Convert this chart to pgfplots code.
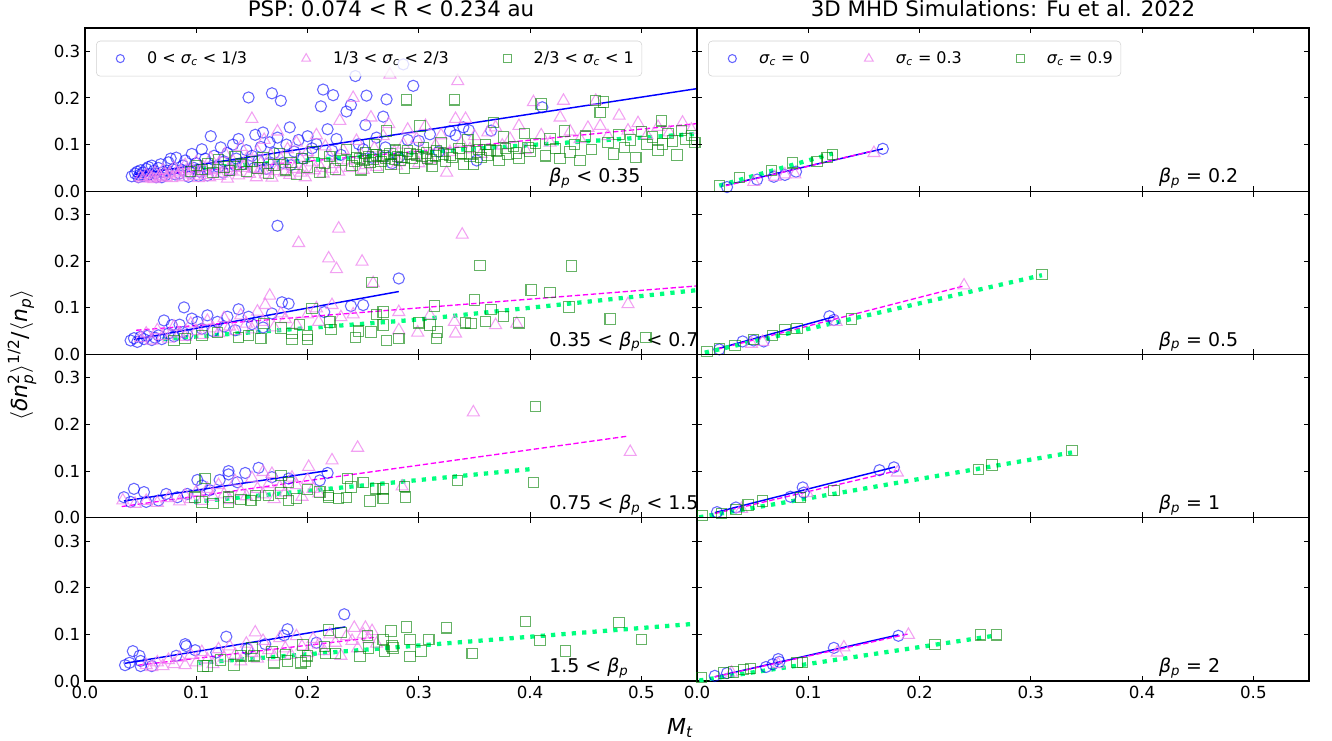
\documentclass[border=0pt]{standalone}
\usepackage{amsmath}
\usepackage{fontspec}
\setmainfont{DejaVu Sans}
\usepackage{pgfplots}
\pgfplotsset{compat=1.18}
\definecolor{cviolet}{RGB}{238,130,238}
\definecolor{cgreen}{RGB}{0,128,0}
\definecolor{spring}{RGB}{0,255,127}
\definecolor{cmag}{RGB}{255,0,255}
\tikzset{ann/.style={anchor=base west, font=\fontsize{14.2}{17}\selectfont}}
\pgfplotsset{
  panel/.style={scale only axis, width=459pt, height=122.44pt,
    xmin=0, xmax=0.55, ymin=0, ymax=0.35,
    xtick={0,0.1,0.2,0.3,0.4,0.5}, ytick={0,0.1,0.2,0.3},
    tick align=inside, major tick length=4pt,
    every tick/.append style={black, line width=0.8pt},
    axis line style={line width=1pt},
    tick label style={font=\fontsize{12.5}{15}\selectfont},
    /pgf/number format/fixed, /pgf/number format/fixed zerofill,
    /pgf/number format/precision=1, /pgf/number format/assume math mode=true,
    anchor=south west},
  pC/.style={only marks, mark=o, mark size=4.2pt, blue, opacity=0.6, line width=0.8pt},
  pT/.style={only marks, mark=triangle, mark size=5.2pt, cviolet, opacity=0.75, line width=0.8pt},
  pS/.style={only marks, mark=square, mark size=3.9pt, cgreen, opacity=0.6, line width=0.8pt},
  fB/.style={blue, line width=1.1pt, forget plot},
  fM/.style={cmag, line width=1pt, dash pattern=on 4pt off 2pt, forget plot},
  fG/.style={spring, line width=3.2pt, dash pattern=on 3.2pt off 4.6pt, forget plot},
  lgd/.style={legend columns=3, legend cell align=left,
    legend image post style={every mark/.append style={scale=0.72}},
    legend style={at={(0.018,0.922)}, anchor=north west, draw=black!18, rounded corners=3pt,
      fill=white, fill opacity=0.8, text opacity=1, font=\fontsize{12}{14}\selectfont,
      /tikz/every even column/.append style={column sep=39pt}, inner ysep=6pt, inner xsep=15pt}},
  ttl/.style={title style={font=\fontsize{16}{19}\selectfont, yshift=-1pt}},
}
\newcommand{\sig}{\textit{σ}$_{\textit{c}}$}
\newcommand{\bet}{\textit{β}$_{\textit{p}}$}
\newcommand{\lsp}{\rule{15pt}{0pt}}
\newcommand{\lend}[1]{\makebox[\dimexpr\width-11pt\relax][l]{#1}}
\begin{document}
\begin{tikzpicture}
\path[use as bounding box] (0,0) rectangle (999pt,555pt);
% ================= LEFT ROW 1 =================
\begin{axis}[panel, at={(63.75pt,411.56pt)}, xticklabels={}, ttl, title={PSP: 0.074 < R < 0.234 au}, lgd]
\addplot[pC] coordinates {(0.042,0.032)(0.045,0.038)(0.047,0.042)(0.049,0.035)(0.050,0.045)(0.052,0.040)(0.053,0.033)(0.055,0.048)(0.057,0.052)(0.058,0.037)(0.060,0.055)(0.062,0.044)(0.064,0.030)(0.066,0.050)(0.068,0.058)(0.070,0.041)(0.072,0.034)(0.075,0.062)(0.077,0.070)(0.079,0.047)(0.082,0.072)(0.085,0.038)(0.088,0.055)(0.090,0.066)(0.093,0.031)(0.096,0.080)(0.098,0.050)(0.100,0.060)(0.103,0.042)(0.105,0.090)(0.108,0.070)(0.110,0.034)(0.113,0.118)(0.116,0.076)(0.120,0.052)(0.122,0.094)(0.125,0.064)(0.128,0.082)(0.130,0.045)(0.133,0.100)(0.136,0.070)(0.138,0.112)(0.142,0.058)(0.145,0.088)(0.147,0.201)(0.150,0.076)(0.153,0.121)(0.156,0.066)(0.158,0.095)(0.160,0.126)(0.163,0.048)(0.166,0.105)(0.168,0.210)(0.170,0.082)(0.173,0.115)(0.176,0.194)(0.178,0.061)(0.181,0.100)(0.184,0.137)(0.188,0.085)(0.192,0.110)(0.196,0.070)(0.200,0.118)(0.204,0.092)(0.208,0.101)(0.212,0.182)(0.214,0.218)(0.218,0.133)(0.222,0.087)(0.223,0.206)(0.226,0.112)(0.230,0.078)(0.235,0.171)(0.239,0.185)(0.243,0.247)(0.246,0.101)(0.250,0.090)(0.252,0.142)(0.253,0.205)(0.258,0.072)(0.262,0.115)(0.268,0.160)(0.270,0.094)(0.271,0.197)(0.276,0.060)(0.282,0.072)(0.286,0.272)(0.290,0.110)(0.295,0.226)(0.300,0.108)(0.310,0.122)(0.318,0.085)(0.328,0.129)(0.333,0.120)(0.340,0.137)(0.345,0.131)(0.352,0.066)(0.365,0.130)(0.411,0.180)(0.048,0.030)(0.056,0.034)(0.063,0.038)(0.069,0.030)(0.074,0.044)(0.081,0.036)(0.087,0.046)(0.095,0.040)(0.102,0.033)(0.111,0.048)(0.124,0.040)(0.135,0.055)(0.152,0.050)(0.165,0.060)(0.185,0.056)};
\addlegendentry{\lsp 0 < \sig{} < 1/3}
\addplot[pT] coordinates {(0.050,0.030)(0.055,0.035)(0.060,0.028)(0.063,0.040)(0.067,0.033)(0.070,0.045)(0.073,0.030)(0.076,0.038)(0.080,0.050)(0.083,0.034)(0.086,0.042)(0.090,0.056)(0.093,0.036)(0.096,0.047)(0.100,0.062)(0.103,0.040)(0.106,0.052)(0.110,0.035)(0.113,0.070)(0.116,0.045)(0.120,0.058)(0.123,0.038)(0.126,0.080)(0.130,0.050)(0.133,0.064)(0.136,0.042)(0.140,0.095)(0.143,0.055)(0.146,0.072)(0.150,0.155)(0.152,0.048)(0.155,0.085)(0.158,0.060)(0.161,0.110)(0.164,0.044)(0.167,0.076)(0.170,0.052)(0.173,0.128)(0.176,0.068)(0.179,0.040)(0.182,0.090)(0.186,0.058)(0.190,0.104)(0.193,0.072)(0.196,0.046)(0.200,0.084)(0.204,0.062)(0.208,0.120)(0.212,0.050)(0.216,0.096)(0.220,0.074)(0.224,0.058)(0.229,0.151)(0.232,0.088)(0.236,0.066)(0.241,0.200)(0.244,0.108)(0.248,0.078)(0.252,0.056)(0.257,0.158)(0.260,0.092)(0.264,0.070)(0.268,0.118)(0.273,0.144)(0.274,0.250)(0.278,0.084)(0.282,0.062)(0.286,0.100)(0.290,0.132)(0.294,0.076)(0.298,0.112)(0.302,0.088)(0.306,0.140)(0.310,0.068)(0.315,0.098)(0.320,0.120)(0.325,0.040)(0.328,0.084)(0.333,0.155)(0.335,0.236)(0.338,0.104)(0.342,0.155)(0.346,0.090)(0.350,0.118)(0.356,0.080)(0.362,0.126)(0.369,0.137)(0.375,0.098)(0.382,0.112)(0.390,0.140)(0.396,0.088)(0.403,0.191)(0.410,0.120)(0.418,0.104)(0.427,0.158)(0.430,0.194)(0.436,0.128)(0.445,0.112)(0.452,0.136)(0.459,0.194)(0.463,0.140)(0.470,0.118)(0.480,0.162)(0.488,0.130)(0.497,0.146)(0.505,0.120)(0.515,0.138)(0.525,0.126)(0.537,0.147)(0.545,0.132)(0.052,0.027)(0.058,0.031)(0.062,0.026)(0.068,0.029)(0.071,0.036)(0.078,0.028)(0.082,0.040)(0.088,0.030)(0.091,0.044)(0.098,0.033)(0.102,0.028)(0.108,0.043)(0.112,0.030)(0.118,0.048)(0.121,0.033)(0.128,0.027)(0.132,0.044)(0.138,0.034)(0.142,0.050)(0.148,0.037)(0.154,0.030)(0.157,0.046)(0.162,0.036)(0.168,0.029)(0.172,0.043)(0.178,0.055)(0.184,0.035)(0.188,0.048)(0.194,0.040)(0.198,0.030)(0.206,0.045)(0.214,0.038)(0.222,0.048)(0.228,0.042)(0.238,0.050)(0.250,0.046)(0.262,0.052)(0.280,0.055)(0.300,0.060)};
\addlegendentry{\lsp 1/3 < \sig{} < 2/3}
\addplot[pS] coordinates {(0.095,0.042)(0.100,0.055)(0.105,0.047)(0.110,0.060)(0.115,0.040)(0.120,0.068)(0.125,0.052)(0.130,0.045)(0.135,0.075)(0.140,0.058)(0.145,0.042)(0.150,0.064)(0.155,0.050)(0.160,0.072)(0.165,0.038)(0.170,0.056)(0.175,0.080)(0.180,0.046)(0.185,0.062)(0.190,0.036)(0.195,0.070)(0.200,0.052)(0.205,0.084)(0.211,0.040)(0.215,0.060)(0.220,0.074)(0.225,0.048)(0.230,0.066)(0.235,0.090)(0.240,0.055)(0.244,0.072)(0.248,0.046)(0.252,0.082)(0.256,0.062)(0.260,0.100)(0.264,0.052)(0.268,0.076)(0.271,0.129)(0.275,0.058)(0.279,0.088)(0.283,0.066)(0.287,0.050)(0.289,0.196)(0.292,0.080)(0.296,0.060)(0.301,0.140)(0.304,0.094)(0.308,0.070)(0.312,0.054)(0.316,0.086)(0.320,0.104)(0.324,0.064)(0.328,0.078)(0.332,0.196)(0.336,0.092)(0.340,0.058)(0.344,0.110)(0.349,0.058)(0.352,0.084)(0.356,0.072)(0.360,0.100)(0.364,0.088)(0.367,0.147)(0.372,0.066)(0.376,0.116)(0.380,0.080)(0.385,0.096)(0.390,0.070)(0.395,0.124)(0.400,0.086)(0.405,0.102)(0.410,0.187)(0.414,0.076)(0.418,0.112)(0.423,0.092)(0.427,0.070)(0.431,0.129)(0.436,0.084)(0.440,0.100)(0.445,0.066)(0.450,0.118)(0.455,0.090)(0.459,0.194)(0.463,0.169)(0.466,0.191)(0.470,0.104)(0.475,0.080)(0.480,0.122)(0.485,0.094)(0.490,0.110)(0.495,0.072)(0.500,0.128)(0.505,0.100)(0.510,0.116)(0.515,0.088)(0.518,0.151)(0.519,0.101)(0.524,0.124)(0.528,0.108)(0.532,0.078)(0.536,0.130)(0.540,0.112)(0.545,0.120)(0.548,0.104)(0.242,0.064)(0.247,0.070)(0.251,0.066)(0.255,0.074)(0.259,0.068)(0.262,0.078)(0.266,0.064)(0.270,0.071)(0.274,0.080)(0.278,0.068)(0.281,0.075)(0.285,0.072)(0.290,0.086)(0.294,0.070)(0.298,0.078)(0.303,0.074)(0.307,0.082)(0.311,0.068)(0.315,0.076)(0.322,0.080)(0.330,0.072)(0.338,0.082)(0.346,0.074)(0.354,0.090)(0.362,0.078)(0.370,0.086)(0.378,0.092)(0.388,0.082)(0.398,0.094)};
\addlegendentry{\lend{\lsp 2/3 < \sig{} < 1}}
\addplot[fB] coordinates {(0.045,0.036)(0.55,0.220)};
\addplot[fM] coordinates {(0.045,0.031)(0.30,0.086)(0.55,0.145)};
\addplot[fG] coordinates {(0.105,0.050)(0.30,0.083)(0.55,0.123)};
\node[ann] at (axis cs:0.413,0.018) {\bet{} < 0.35};
\end{axis}
% ================= LEFT ROW 2 =================
\begin{axis}[panel, at={(63.75pt,289.12pt)}, xticklabels={}]
\addplot[pC] coordinates {(0.041,0.030)(0.044,0.035)(0.047,0.027)(0.050,0.038)(0.053,0.033)(0.056,0.040)(0.060,0.031)(0.063,0.036)(0.066,0.041)(0.069,0.033)(0.071,0.073)(0.075,0.045)(0.078,0.063)(0.080,0.039)(0.085,0.064)(0.088,0.048)(0.089,0.101)(0.092,0.042)(0.096,0.077)(0.101,0.070)(0.105,0.055)(0.110,0.084)(0.115,0.050)(0.119,0.070)(0.125,0.060)(0.128,0.081)(0.135,0.052)(0.138,0.097)(0.147,0.081)(0.150,0.065)(0.160,0.058)(0.168,0.088)(0.173,0.276)(0.177,0.112)(0.183,0.109)(0.215,0.091)(0.239,0.104)(0.250,0.106)(0.282,0.163)};
\addplot[pT] coordinates {(0.050,0.035)(0.055,0.045)(0.060,0.030)(0.065,0.052)(0.070,0.040)(0.075,0.034)(0.080,0.060)(0.085,0.045)(0.090,0.038)(0.095,0.066)(0.100,0.050)(0.105,0.042)(0.110,0.072)(0.115,0.056)(0.120,0.046)(0.125,0.078)(0.130,0.060)(0.135,0.050)(0.140,0.084)(0.145,0.066)(0.150,0.054)(0.155,0.092)(0.160,0.070)(0.162,0.106)(0.166,0.126)(0.170,0.058)(0.176,0.088)(0.180,0.076)(0.190,0.064)(0.192,0.239)(0.200,0.086)(0.208,0.099)(0.210,0.070)(0.219,0.206)(0.222,0.106)(0.226,0.183)(0.228,0.270)(0.230,0.080)(0.241,0.086)(0.249,0.199)(0.259,0.153)(0.282,0.091)(0.282,0.052)(0.299,0.047)(0.310,0.084)(0.332,0.070)(0.333,0.045)(0.339,0.257)(0.369,0.063)(0.388,0.066)(0.488,0.108)};
\addplot[pS] coordinates {(0.080,0.030)(0.090,0.034)(0.105,0.041)(0.119,0.047)(0.138,0.037)(0.147,0.041)(0.158,0.034)(0.161,0.066)(0.176,0.057)(0.186,0.045)(0.186,0.032)(0.193,0.064)(0.200,0.041)(0.200,0.032)(0.204,0.099)(0.220,0.070)(0.221,0.054)(0.243,0.037)(0.246,0.050)(0.257,0.048)(0.258,0.154)(0.262,0.086)(0.268,0.091)(0.268,0.063)(0.271,0.030)(0.282,0.034)(0.300,0.068)(0.310,0.063)(0.314,0.104)(0.316,0.034)(0.317,0.048)(0.342,0.068)(0.347,0.066)(0.350,0.117)(0.355,0.191)(0.360,0.071)(0.365,0.097)(0.376,0.082)(0.390,0.068)(0.401,0.138)(0.418,0.133)(0.435,0.102)(0.437,0.190)(0.472,0.076)(0.504,0.037)};
\addplot[fB] coordinates {(0.044,0.032)(0.282,0.135)};
\addplot[fM] coordinates {(0.046,0.052)(0.55,0.147)};
\addplot[fG] coordinates {(0.070,0.033)(0.30,0.075)(0.55,0.138)};
\node[ann] at (axis cs:0.413,0.018) {0.35 < \bet{} < 0.75};
\end{axis}
% ================= LEFT ROW 3 =================
\begin{axis}[panel, at={(63.75pt,166.69pt)}, xticklabels={}]
\addplot[pC] coordinates {(0.035,0.044)(0.041,0.034)(0.044,0.062)(0.053,0.055)(0.055,0.034)(0.066,0.037)(0.073,0.051)(0.083,0.044)(0.092,0.051)(0.101,0.081)(0.105,0.069)(0.112,0.059)(0.121,0.081)(0.129,0.100)(0.129,0.093)(0.137,0.076)(0.144,0.096)(0.156,0.107)(0.168,0.087)(0.183,0.084)(0.211,0.080)(0.218,0.096)};
\addplot[pT] coordinates {(0.034,0.037)(0.045,0.030)(0.055,0.036)(0.065,0.032)(0.075,0.042)(0.085,0.035)(0.090,0.048)(0.095,0.040)(0.100,0.055)(0.105,0.036)(0.110,0.062)(0.115,0.045)(0.120,0.070)(0.125,0.050)(0.130,0.038)(0.135,0.078)(0.140,0.056)(0.145,0.046)(0.150,0.085)(0.155,0.062)(0.160,0.050)(0.160,0.098)(0.165,0.072)(0.168,0.094)(0.170,0.040)(0.175,0.066)(0.180,0.054)(0.186,0.086)(0.190,0.070)(0.195,0.045)(0.200,0.081)(0.201,0.109)(0.205,0.062)(0.210,0.052)(0.222,0.123)(0.245,0.150)(0.285,0.067)(0.349,0.226)(0.490,0.141)};
\addplot[pS] coordinates {(0.099,0.044)(0.105,0.034)(0.108,0.084)(0.115,0.030)(0.129,0.034)(0.129,0.044)(0.140,0.039)(0.149,0.037)(0.153,0.048)(0.165,0.048)(0.176,0.053)(0.176,0.091)(0.183,0.076)(0.183,0.037)(0.190,0.041)(0.200,0.060)(0.211,0.055)(0.219,0.048)(0.219,0.043)(0.228,0.041)(0.235,0.043)(0.236,0.084)(0.239,0.066)(0.250,0.076)(0.256,0.036)(0.261,0.062)(0.268,0.062)(0.268,0.041)(0.287,0.067)(0.288,0.044)(0.335,0.080)(0.403,0.076)(0.405,0.239)};
\addplot[fB] coordinates {(0.035,0.036)(0.218,0.101)};
\addplot[fM] coordinates {(0.033,0.024)(0.488,0.175)};
\addplot[fG] coordinates {(0.098,0.034)(0.404,0.105)};
\node[ann] at (axis cs:0.413,0.018) {0.75 < \bet{} < 1.5};
\end{axis}
% ================= LEFT ROW 4 =================
\begin{axis}[panel, at={(63.75pt,44.25pt)}]
\addplot[pC] coordinates {(0.036,0.034)(0.040,0.039)(0.043,0.064)(0.049,0.054)(0.050,0.043)(0.050,0.032)(0.060,0.032)(0.082,0.054)(0.090,0.079)(0.091,0.075)(0.099,0.066)(0.118,0.061)(0.127,0.095)(0.146,0.068)(0.162,0.079)(0.179,0.098)(0.182,0.111)(0.208,0.082)(0.233,0.143)};
\addplot[pT] coordinates {(0.055,0.034)(0.060,0.030)(0.065,0.040)(0.070,0.032)(0.075,0.045)(0.080,0.036)(0.085,0.050)(0.090,0.034)(0.095,0.056)(0.100,0.040)(0.105,0.062)(0.110,0.046)(0.115,0.036)(0.120,0.068)(0.125,0.050)(0.130,0.074)(0.135,0.056)(0.140,0.042)(0.145,0.080)(0.150,0.060)(0.153,0.104)(0.155,0.048)(0.160,0.086)(0.165,0.066)(0.170,0.052)(0.175,0.092)(0.180,0.070)(0.185,0.056)(0.190,0.096)(0.195,0.074)(0.200,0.060)(0.205,0.090)(0.210,0.078)(0.215,0.064)(0.220,0.100)(0.225,0.082)(0.230,0.054)(0.235,0.096)(0.240,0.086)(0.242,0.114)(0.245,0.070)(0.250,0.100)(0.252,0.114)(0.255,0.090)(0.258,0.107)(0.262,0.080)};
\addplot[pS] coordinates {(0.106,0.032)(0.110,0.032)(0.122,0.045)(0.134,0.034)(0.140,0.054)(0.150,0.071)(0.152,0.054)(0.168,0.062)(0.170,0.039)(0.180,0.057)(0.182,0.043)(0.194,0.039)(0.196,0.077)(0.198,0.043)(0.200,0.054)(0.215,0.074)(0.216,0.059)(0.219,0.109)(0.225,0.059)(0.230,0.104)(0.247,0.052)(0.254,0.098)(0.255,0.071)(0.268,0.089)(0.269,0.064)(0.275,0.107)(0.276,0.075)(0.277,0.071)(0.289,0.116)(0.292,0.089)(0.292,0.052)(0.302,0.064)(0.309,0.089)(0.325,0.114)(0.348,0.059)(0.396,0.127)(0.409,0.087)(0.432,0.064)(0.480,0.125)(0.500,0.089)};
\addplot[fB] coordinates {(0.036,0.038)(0.234,0.116)};
\addplot[fM] coordinates {(0.048,0.034)(0.262,0.094)};
\addplot[fG] coordinates {(0.102,0.039)(0.55,0.123)};
\node[ann] at (axis cs:0.413,0.018) {1.5 < \bet{}};
\end{axis}
% ================= RIGHT ROW 1 =================
\begin{axis}[panel, at={(522.75pt,411.56pt)}, xticklabels={}, yticklabels={}, ttl, title={3D MHD Simulations: Fu et al. 2022}, lgd]
\addplot[pC] coordinates {(0.027,0.009)(0.054,0.025)(0.069,0.031)(0.079,0.035)(0.089,0.042)(0.167,0.091)};
\addlegendentry{\lsp\sig{} = 0}
\addplot[pT] coordinates {(0.051,0.020)(0.070,0.031)(0.079,0.036)(0.088,0.036)(0.159,0.082)};
\addlegendentry{\lsp\sig{} = 0.3}
\addplot[pS] coordinates {(0.020,0.011)(0.038,0.029)(0.067,0.044)(0.086,0.061)(0.108,0.064)(0.117,0.072)(0.122,0.079)};
\addlegendentry{\lend{\lsp\sig{} = 0.9}}
\addplot[fB] coordinates {(0.026,0.013)(0.167,0.091)};
\addplot[fM] coordinates {(0.026,0.012)(0.159,0.087)};
\addplot[fG] coordinates {(0.020,0.012)(0.122,0.081)};
\node[ann] at (axis cs:0.411,0.018) {\bet{} = 0.2};
\end{axis}
% ================= RIGHT ROW 2 =================
\begin{axis}[panel, at={(522.75pt,289.12pt)}, xticklabels={}, yticklabels={}]
\addplot[pC] coordinates {(0.020,0.011)(0.041,0.028)(0.051,0.030)(0.060,0.028)(0.119,0.082)(0.123,0.074)};
\addplot[pT] coordinates {(0.049,0.023)(0.059,0.027)(0.125,0.070)(0.240,0.148)};
\addplot[pS] coordinates {(0.009,0.007)(0.020,0.012)(0.034,0.019)(0.051,0.032)(0.068,0.041)(0.079,0.054)(0.090,0.056)(0.139,0.076)(0.310,0.171)};
\addplot[fB] coordinates {(0.018,0.012)(0.123,0.081)};
\addplot[fM] coordinates {(0.018,0.011)(0.240,0.147)};
\addplot[fG] coordinates {(0.007,0.004)(0.310,0.170)};
\node[ann] at (axis cs:0.411,0.018) {\bet{} = 0.5};
\end{axis}
% ================= RIGHT ROW 3 =================
\begin{axis}[panel, at={(522.75pt,166.69pt)}, xticklabels={}, yticklabels={}]
\addplot[pC] coordinates {(0.018,0.012)(0.035,0.022)(0.084,0.045)(0.095,0.065)(0.096,0.054)(0.164,0.102)(0.177,0.108)};
\addplot[pT] coordinates {(0.040,0.019)(0.099,0.053)(0.180,0.097)};
\addplot[pS] coordinates {(0.005,0.005)(0.022,0.009)(0.035,0.018)(0.046,0.027)(0.059,0.036)(0.093,0.043)(0.123,0.058)(0.253,0.104)(0.265,0.113)(0.337,0.144)};
\addplot[fB] coordinates {(0.016,0.011)(0.178,0.109)};
\addplot[fM] coordinates {(0.016,0.009)(0.180,0.101)};
\addplot[fG] coordinates {(0.002,0.001)(0.337,0.140)};
\node[ann] at (axis cs:0.411,0.018) {\bet{} = 1};
\end{axis}
% ================= RIGHT ROW 4 =================
\begin{axis}[panel, at={(522.75pt,44.25pt)}, yticklabels={}]
\addplot[pC] coordinates {(0.016,0.011)(0.027,0.017)(0.062,0.030)(0.068,0.036)(0.073,0.047)(0.074,0.041)(0.123,0.071)(0.181,0.097)};
\addplot[pT] coordinates {(0.031,0.018)(0.073,0.036)(0.126,0.061)(0.132,0.072)(0.190,0.099)};
\addplot[pS] coordinates {(0.004,0.007)(0.024,0.017)(0.033,0.019)(0.042,0.025)(0.048,0.027)(0.090,0.040)(0.095,0.040)(0.214,0.078)(0.255,0.099)(0.269,0.099)};
\addplot[fB] coordinates {(0.016,0.009)(0.181,0.099)};
\addplot[fM] coordinates {(0.016,0.009)(0.190,0.101)};
\addplot[fG] coordinates {(0.002,0.001)(0.267,0.097)};
\node[ann] at (axis cs:0.411,0.018) {\bet{} = 2};
\end{axis}
% ================= LABELS =================
\node[font=\fontsize{16.5}{19}\selectfont] at (510pt,9pt) {\textit{M}$_{\textit{t}}$};
\node[font=\fontsize{16.5}{19}\selectfont, rotate=90] at (16.5pt,288.75pt) {$\langle$\textit{δn}$_{\textit{p}}^{\text{2}}\rangle^{\text{1/2}}$/$\langle$\textit{n}$_{\textit{p}}\rangle$};
\end{tikzpicture}
\end{document}
